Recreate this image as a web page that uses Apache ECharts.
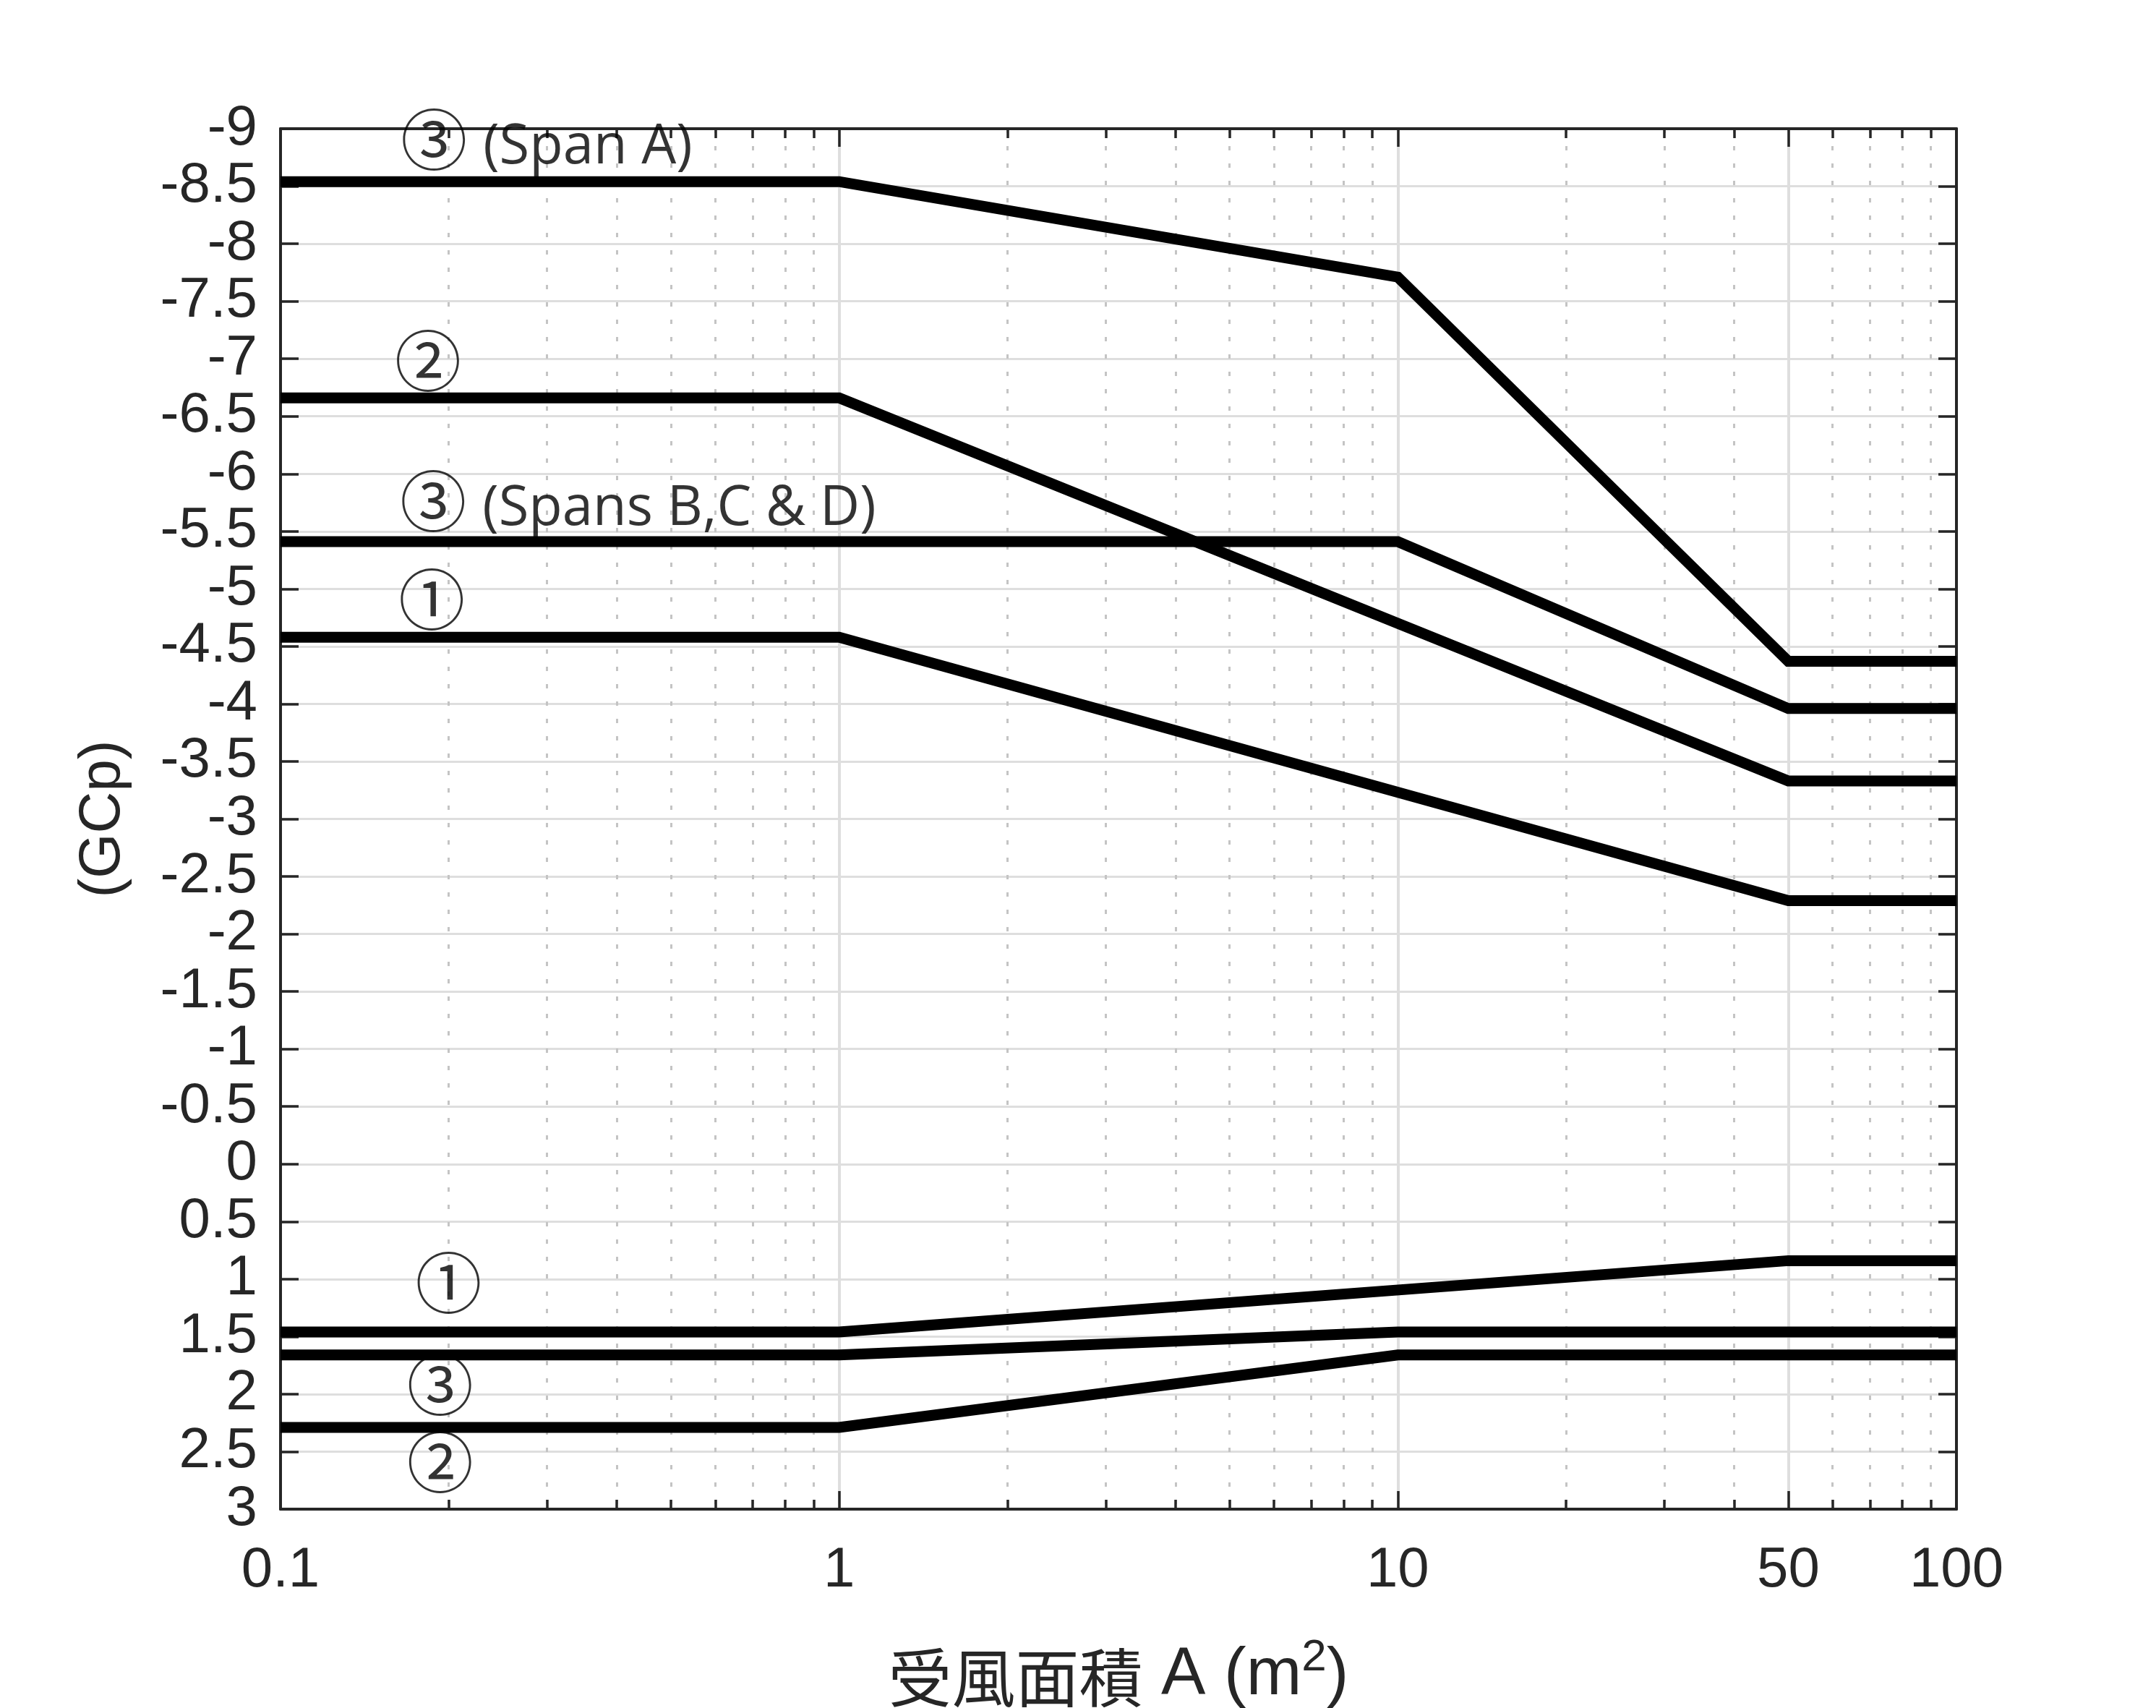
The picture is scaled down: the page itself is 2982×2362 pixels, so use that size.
<!DOCTYPE html>
<html>
<head>
<meta charset="utf-8">
<script src="https://cdn.jsdelivr.net/npm/echarts@6/dist/echarts.min.js"></script>
<style>
  html, body { margin: 0; padding: 0; background: #fff; }
  #chart { width: 2982px; height: 2362px; }
</style>
</head>
<body>
<div id="chart"></div>
<script>
// wind area A (m2) and (GCp) break points for each curve
const spanA    = [[0.1, -8.54], [1, -8.54], [10, -7.71], [50, -4.37], [100, -4.37]];
const zone2Neg = [[0.1, -6.66], [1, -6.66], [50, -3.33], [100, -3.33]];
const spanBCD  = [[0.1, -5.41], [10, -5.41], [50, -3.96], [100, -3.96]];
const zone1Neg = [[0.1, -4.58], [1, -4.58], [50, -2.29], [100, -2.29]];
const zone1Pos = [[0.1, 1.46], [1, 1.46], [50, 0.84], [100, 0.84]];
const zone3Pos = [[0.1, 1.66], [1, 1.66], [10, 1.46], [100, 1.46]];
const zone2Pos = [[0.1, 2.29], [1, 2.29], [10, 1.66], [100, 1.66]];

// curve labels
const labelAt   = [[0.1865, -8.835], [0.1837, -6.91], [0.186, -5.69], [0.1865, -4.84], [0.2, 1.10], [0.193, 1.99], [0.193, 2.66]];
const labelMark = ['③', '②', '③', '①', '①', '③', '②'];
const labelNote = ['(Span A)', '', '(Spans B,C & D)', '', '', '', ''];

// axis ticks
const xLabels     = [0.1, 1, 10, 50, 100];
const xMajorTicks = [1, 10, 50];
const xMinorTicks = [0.2, 0.3, 0.4, 0.5, 0.6, 0.7, 0.8, 0.9, 2, 3, 4, 5, 6, 7, 8, 9, 20, 30, 40, 60, 70, 80, 90];

const axisColor = '#262626';
const gridColor = '#dedede';

const chart = echarts.init(document.getElementById('chart'));

function xAxisDef(pos, ticks, len, opts) {
  return Object.assign({
    type: 'log',
    logBase: 10,
    min: 0.1,
    max: 100,
    position: pos,
    axisLine: { show: false, onZero: false },
    axisTick: { show: true, inside: true, length: len, customValues: ticks,
      lineStyle: { color: axisColor, width: 3.5 } },
    axisLabel: { show: false },
    splitLine: { show: false },
    minorTick: { show: false }
  }, opts || {});
}

const yBase = {
  type: 'value',
  inverse: true,
  min: -9,
  max: 3,
  interval: 0.5
};

const lineSeries = [spanA, zone2Neg, spanBCD, zone1Neg, zone1Pos, zone3Pos, zone2Pos].map(d => ({
  type: 'line',
  data: d,
  showSymbol: false,
  symbol: 'none',
  animation: false,
  z: 5,
  lineStyle: { color: '#000', width: 15, join: 'miter', cap: 'butt' }
}));

const labelData = labelAt.map((p, i) => {
  const withNote = labelNote[i] !== '';
  return {
    value: p,
    label: {
      formatter: withNote ? '{c|' + labelMark[i] + '}{t|' + labelNote[i] + '}' : '{c|' + labelMark[i] + '}',
      align: withNote ? 'left' : 'center',
      offset: withNote ? [-43, 0] : [0, 0]
    }
  };
});

const option = {
  backgroundColor: '#fff',
  animation: false,
  grid: { left: 388, right: 276, top: 178, bottom: 275, containLabel: false, outerBoundsMode: 'none' },
  xAxis: [
    xAxisDef('bottom', xMajorTicks, 25, {
      name: '{z|受風面積}{a| A (m}{s|2}{a|)}',
      nameLocation: 'middle',
      nameGap: 175,
      nameTextStyle: {
        rich: {
          z: { fontFamily: '"Noto Sans CJK TC"', fontSize: 88, color: axisColor, verticalAlign: 'bottom' },
          a: { fontFamily: '"Liberation Sans", Arial', fontSize: 92, color: axisColor, verticalAlign: 'bottom' },
          s: { fontFamily: '"Liberation Sans", Arial', fontSize: 62, color: axisColor, verticalAlign: 'bottom', padding: [0, 0, 40, 0] }
        }
      },
      axisLine: { show: true, onZero: false, lineStyle: { color: axisColor, width: 4 } },
      axisLabel: {
        show: true, customValues: xLabels, margin: 46,
        fontFamily: '"Liberation Sans", Arial', fontSize: 78, color: axisColor,
        formatter: v => String(v)
      },
      splitLine: { show: true, lineStyle: { color: gridColor, width: 4 } }
    }),
    xAxisDef('bottom', xMinorTicks, 13, {
      splitLine: { show: true, lineStyle: { color: '#c4c4c4', width: 3, type: [6, 18] } }
    }),
    xAxisDef('top', xMajorTicks, 25, {
      axisLine: { show: true, onZero: false, lineStyle: { color: axisColor, width: 4 } }
    }),
    xAxisDef('top', xMinorTicks, 13)
  ],
  yAxis: [
    Object.assign({}, yBase, {
      position: 'left',
      name: '(GCp)',
      nameLocation: 'middle',
      nameGap: 205,
      nameTextStyle: { fontFamily: '"Liberation Sans", Arial', fontSize: 80, color: axisColor },
      axisLine: { show: true, onZero: false, lineStyle: { color: axisColor, width: 4 } },
      axisTick: { show: true, inside: true, length: 25, lineStyle: { color: axisColor, width: 3.5 } },
      axisLabel: { margin: 32, fontFamily: '"Liberation Sans", Arial', fontSize: 78, color: axisColor },
      splitLine: { show: true, lineStyle: { color: gridColor, width: 3 } }
    }),
    Object.assign({}, yBase, {
      position: 'right',
      axisLine: { show: true, onZero: false, lineStyle: { color: axisColor, width: 4 } },
      axisTick: { show: true, inside: true, length: 25, lineStyle: { color: axisColor, width: 3.5 } },
      axisLabel: { show: false },
      splitLine: { show: false }
    })
  ],
  series: lineSeries.concat([{
    type: 'scatter',
    symbolSize: 0,
    z: 6,
    silent: true,
    data: labelData,
    label: {
      show: true,
      position: 'inside',
      verticalAlign: 'middle',
      rich: {
        c: { fontFamily: '"DejaVu Serif", "Noto Sans CJK JP"', fontSize: 92, color: '#000' },
        t: { fontFamily: '"Open Sans", "Noto Sans"', fontSize: 76, color: '#000', padding: [0, 0, 0, 22] }
      }
    }
  }])
};

chart.setOption(option);
</script>
</body>
</html>
